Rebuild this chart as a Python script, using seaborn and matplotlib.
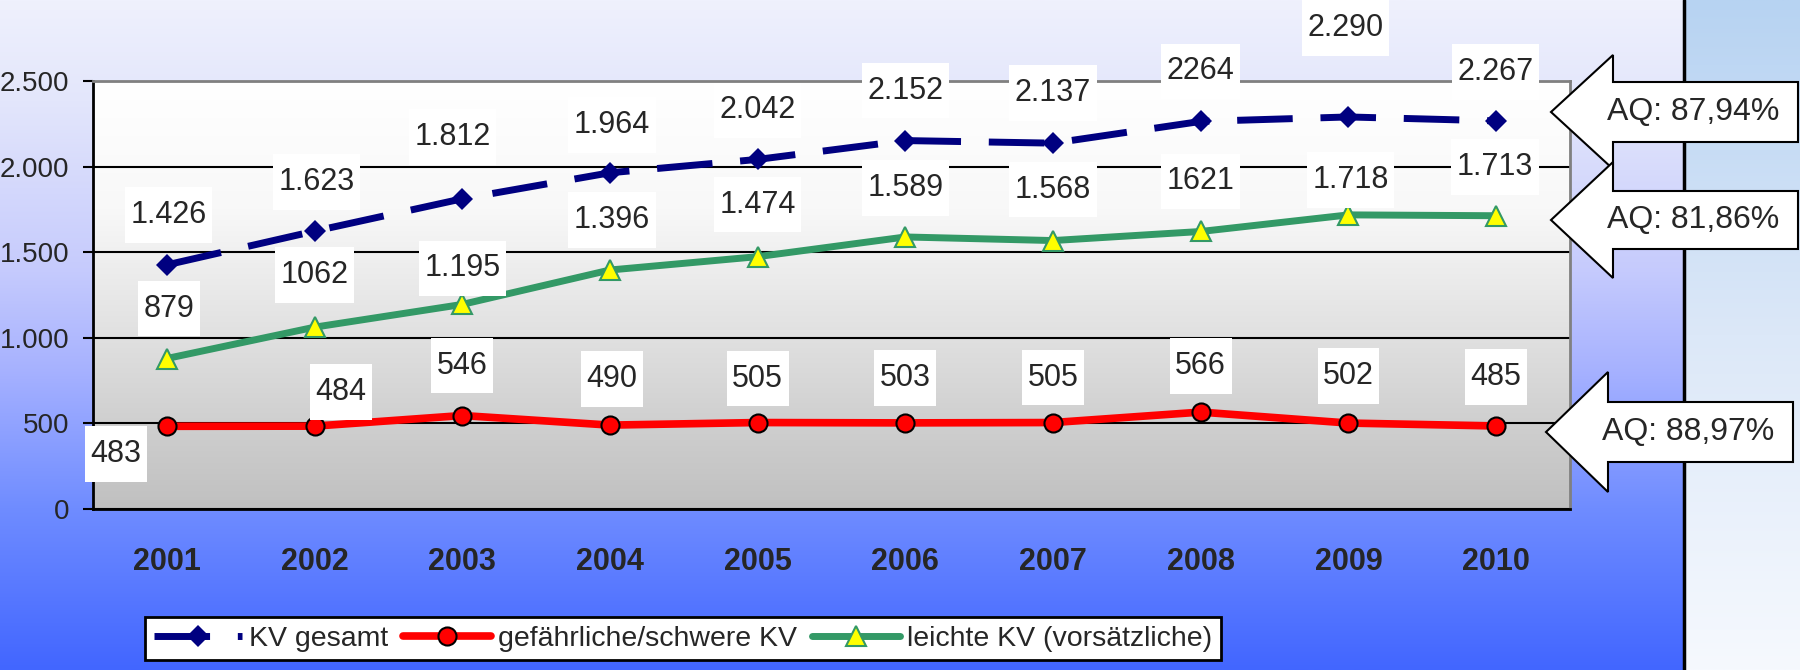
# Körperverletzung 2001-2010 mit Aufklärungsquoten
import numpy as np
import pandas as pd
import matplotlib
matplotlib.use("Agg")
import matplotlib.pyplot as plt
from matplotlib import font_manager
from matplotlib.colors import LinearSegmentedColormap
from matplotlib.patches import Polygon
from matplotlib.path import Path
from matplotlib.ticker import FuncFormatter, FixedLocator
import seaborn as sns

jahre = ["2001", "2002", "2003", "2004", "2005", "2006", "2007", "2008", "2009", "2010"]
kv_gesamt = [1426, 1623, 1812, 1964, 2042, 2152, 2137, 2264, 2290, 2267]
kv_schwer = [483, 484, 546, 490, 505, 503, 505, 566, 502, 485]
kv_leicht = [879, 1062, 1195, 1396, 1474, 1589, 1568, 1621, 1718, 1713]

lab_gesamt = ["1.426", "1.623", "1.812", "1.964", "2.042", "2.152", "2.137", "2264", "2.290", "2.267"]
lab_schwer = ["483", "484", "546", "490", "505", "503", "505", "566", "502", "485"]
lab_leicht = ["879", "1062", "1.195", "1.396", "1.474", "1.589", "1.568", "1621", "1.718", "1.713"]

namen = ["KV gesamt", "gefährliche/schwere KV", "leichte KV (vorsätzliche)"]
quoten = ["AQ: 87,94%", "AQ: 81,86%", "AQ: 88,97%"]

sns.set_style("white")
plt.rcParams["font.family"] = ["Liberation Sans", "DejaVu Sans"]

try:
    font_manager.findfont("Liberation Sans Narrow", fallback_to_default=False)
    legend_font, legend_size = "Liberation Sans Narrow", 22
except ValueError:
    legend_font, legend_size = "Liberation Sans", 20.5

W, H = 1800, 670
fig = plt.figure(figsize=(18, 6.7), dpi=100)
fig.patch.set_visible(False)


def fx(x):
    return x / W


def fy(y):
    return 1 - y / H


def label_box(x0, y0, width, height, mutation_size):
    # weißes Kästchen, schmal seitlich, hoch oben/unten
    px, py = 0.18 * mutation_size, 0.42 * mutation_size
    x1, y1 = x0 + width + px, y0 + height + py
    x0, y0 = x0 - px, y0 - py
    return Path([(x0, y0), (x1, y0), (x1, y1), (x0, y1), (x0, y0)], closed=True)


# Hintergrund
bg = fig.add_axes([0, 0, 1, 1], zorder=-10)
bg.axis("off")
bg.set_xlim(0, 1)
bg.set_ylim(0, 1)
grad = np.linspace(0, 1, 256).reshape(-1, 1)
cm_left = LinearSegmentedColormap.from_list("l", [(0, "#eff1fd"), (0.15, "#e3e6fb"), (0.4, "#c6cbfd"),
                                                  (0.55, "#a7b2ff"), (0.76, "#6f8cff"), (1, "#4266ff")])
cm_right = LinearSegmentedColormap.from_list("r", ["#b7d3f2", "#dce8f8", "#f6f9fe"])
bg.imshow(grad, cmap=cm_left, aspect="auto", extent=[0, fx(1683), 0, 1], origin="upper")
bg.imshow(grad, cmap=cm_right, aspect="auto", extent=[fx(1683), 1, 0, 1], origin="upper")
bg.axvline(fx(1684), color="black", lw=2.5)

# Diagramm
ax = fig.add_axes([fx(93), fy(509), fx(1570) - fx(93), (509 - 81) / H])
df = pd.DataFrame({"Jahr": jahre, namen[0]: kv_gesamt, namen[1]: kv_schwer, namen[2]: kv_leicht})

cm_plot = LinearSegmentedColormap.from_list("p", [(0, "#ffffff"), (0.3, "#f8f8f8"), (0.6, "#e0e0e0"),
                                                  (0.8, "#cfcfcf"), (1, "#c0c0c0")])
ax.imshow(grad, cmap=cm_plot, aspect="auto", extent=[-0.5, 9.5, 0, 2500], origin="upper", zorder=0)

sns.lineplot(data=df, x="Jahr", y=namen[0], ax=ax, color="#000080", linewidth=5, marker="D",
             markersize=11, markeredgecolor="#000080", markeredgewidth=0, label=namen[0], zorder=3)
ax.lines[-1].set_dashes([8, 4])
sns.lineplot(data=df, x="Jahr", y=namen[1], ax=ax, color="#ff0000", linewidth=5.5, marker="o",
             markersize=13, markeredgecolor="black", markeredgewidth=1.5, label=namen[1], zorder=3)
sns.lineplot(data=df, x="Jahr", y=namen[2], ax=ax, color="#339966", linewidth=5, marker="^",
             markersize=14, markerfacecolor="#ffff00", markeredgecolor="#339966", markeredgewidth=1.5,
             label=namen[2], zorder=3)

ax.set_xlim(-0.5, 9.5)
ax.set_ylim(0, 2500)
ax.set_xlabel("")
ax.set_ylabel("")
ax.set_yticks([0, 500, 1000, 1500, 2000, 2500])
ax.yaxis.set_major_formatter(FuncFormatter(lambda v, p: f"{v:,.0f}".replace(",", ".")))
ax.yaxis.grid(True, color="black", lw=1.5)
ax.set_axisbelow(True)
ax.set_xticks(range(len(jahre)))
ax.set_xticklabels(jahre, fontsize=22, fontweight="bold")
ax.xaxis.set_minor_locator(FixedLocator(np.arange(-0.5, 10, 1)))
ax.tick_params(axis="x", which="major", length=0, pad=27)
ax.tick_params(axis="x", which="minor", length=8, width=1.5, direction="out", color="black")
ax.tick_params(axis="y", length=7, width=1.5, direction="out", color="black", labelsize=20, pad=10, left=True)
for s in ["left", "bottom"]:
    ax.spines[s].set_color("black")
    ax.spines[s].set_linewidth(2)
for s in ["top", "right"]:
    ax.spines[s].set_color("#808080")
    ax.spines[s].set_linewidth(2)

# Datenbeschriftungen (Versatz in Pixeln)
off_gesamt = [(2, 50), (2, 49), (-10, 62), (2, 48), (0, 49), (0, 50), (0, 50), (0, 50), (-3, 89), (-1, 49)]
off_leicht = [(2, 50), (0, 52), (0, 36), (2, 50), (0, 52), (0, 49), (0, 51), (0, 50), (2, 35), (-1, 49)]
off_schwer = [(-51, -28), (26, 34), (0, 50), (2, 46), (0, 44), (0, 45), (0, 45), (0, 46), (0, 47), (0, 49)]
box = dict(boxstyle=label_box, fc="white", ec="none")
for werte, labs, offs in [(kv_gesamt, lab_gesamt, off_gesamt), (kv_leicht, lab_leicht, off_leicht),
                          (kv_schwer, lab_schwer, off_schwer)]:
    for i, (v, t, o) in enumerate(zip(werte, labs, offs)):
        ax.annotate(t, (i, v), xytext=o, textcoords="offset pixels", ha="center", va="center",
                    fontsize=22, bbox=box, zorder=5, annotation_clip=False)

# Legende
handles, labels = ax.get_legend_handles_labels()
ax.get_legend().remove()
leg = fig.legend(handles, labels, loc="upper left", bbox_to_anchor=(fx(145), fy(617)), ncol=3,
                 fancybox=False, framealpha=1, edgecolor="black",
                 prop={"family": legend_font, "size": legend_size},
                 handlelength=3.1, handletextpad=0.26, columnspacing=0.5, borderpad=0.3, borderaxespad=0)
leg.get_frame().set_linewidth(2)

# Pfeile mit Aufklärungsquoten
pfeile = [(1551, 112, 1613, 57, 30, 1798), (1551, 220, 1613, 58, 29, 1798), (1546, 432, 1608, 60, 30, 1793)]
for (tip, yc, xb, hh, sh, xr), txt in zip(pfeile, quoten):
    pts = [(tip, yc), (xb, yc - hh), (xb, yc - sh), (xr, yc - sh), (xr, yc + sh), (xb, yc + sh), (xb, yc + hh)]
    fig.add_artist(Polygon([(fx(a), fy(b)) for a, b in pts], closed=True, transform=fig.transFigure,
                           fc="white", ec="black", lw=1.5, zorder=6))
    fig.text(fx((xb + xr) / 2 - 12), fy(yc), txt, ha="center", va="center", fontsize=23, zorder=7)

plt.savefig("out.png", dpi=100)
